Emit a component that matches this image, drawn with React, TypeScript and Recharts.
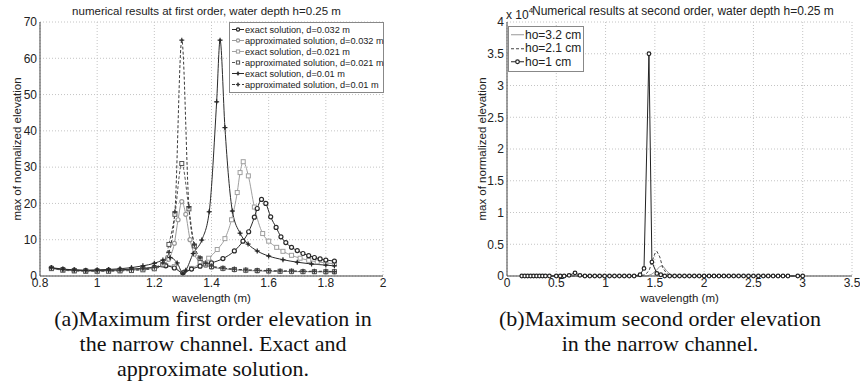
import { LineChart, Line, XAxis, YAxis, CartesianGrid } from "recharts";

const SANS = '"Liberation Sans", Arial, sans-serif';
const SERIF = '"Liberation Serif", "Times New Roman", serif';

// (a) first order, wavelength (m) vs max of normalized elevation
const exactD032X = [0.84, 0.88, 0.92, 0.96, 1.0, 1.04, 1.08, 1.12, 1.16, 1.2, 1.24, 1.27, 1.3, 1.33, 1.36, 1.4, 1.44, 1.48, 1.51, 1.53, 1.55, 1.56, 1.575, 1.59, 1.607, 1.626, 1.643, 1.66, 1.68, 1.7, 1.72, 1.74, 1.76, 1.78, 1.8, 1.83];
const exactD032Y = [2.2, 1.8, 1.6, 1.5, 1.5, 1.6, 1.7, 1.9, 2.1, 2.4, 2.8, 2.2, 0.9, 1.9, 2.7, 3.6, 4.8, 6.9, 9.6, 12.2, 16.2, 18.6, 21.1, 20.0, 16.3, 13.4, 10.8, 9.2, 7.9, 7.0, 6.2, 5.6, 5.1, 4.7, 4.4, 4.1];

const approxD032X = [0.84, 0.88, 0.92, 0.96, 1.0, 1.04, 1.08, 1.12, 1.16, 1.2, 1.23, 1.25, 1.27, 1.283, 1.296, 1.31, 1.325, 1.34, 1.36, 1.38, 1.4, 1.44, 1.48, 1.52, 1.56, 1.6, 1.64, 1.68, 1.72, 1.76, 1.8, 1.83];
const approxD032Y = [2.2, 1.7, 1.5, 1.4, 1.4, 1.4, 1.5, 1.6, 1.8, 2.2, 3.0, 4.6, 9.0, 15.5, 20.5, 17.0, 10.0, 6.0, 3.8, 2.9, 2.4, 2.0, 1.7, 1.5, 1.4, 1.3, 1.3, 1.2, 1.2, 1.2, 1.1, 1.1];

const exactD021X = [0.84, 0.88, 0.92, 0.96, 1.0, 1.04, 1.08, 1.12, 1.16, 1.2, 1.24, 1.27, 1.3, 1.33, 1.36, 1.39, 1.42, 1.447, 1.47, 1.49, 1.5, 1.511, 1.529, 1.55, 1.579, 1.6, 1.628, 1.65, 1.68, 1.71, 1.74, 1.77, 1.8, 1.83];
const exactD021Y = [2.0, 1.7, 1.5, 1.4, 1.4, 1.5, 1.6, 1.8, 2.0, 2.3, 2.9, 2.6, 0.6, 2.1, 3.3, 4.9, 7.3, 10.3, 15.5, 23.0, 28.5, 31.5, 27.6, 19.0, 11.7, 9.6, 7.9, 6.8, 5.7, 4.9, 4.3, 3.9, 3.6, 3.4];

const approxD021X = [0.84, 0.88, 0.92, 0.96, 1.0, 1.04, 1.08, 1.12, 1.16, 1.2, 1.23, 1.251, 1.272, 1.296, 1.321, 1.34, 1.36, 1.38, 1.4, 1.44, 1.48, 1.52, 1.56, 1.6, 1.64, 1.68, 1.72, 1.76, 1.8, 1.83];
const approxD021Y = [2.1, 1.6, 1.4, 1.3, 1.3, 1.3, 1.4, 1.5, 1.7, 2.0, 3.1, 8.7, 17.0, 31.0, 18.5, 8.3, 4.8, 3.3, 2.6, 2.1, 1.8, 1.6, 1.5, 1.4, 1.3, 1.3, 1.2, 1.2, 1.2, 1.2];

const exactD01X = [0.84, 0.88, 0.92, 0.96, 1.0, 1.04, 1.08, 1.12, 1.16, 1.2, 1.23, 1.255, 1.28, 1.3, 1.31, 1.336, 1.366, 1.392, 1.418, 1.43, 1.447, 1.473, 1.5, 1.528, 1.56, 1.6, 1.65, 1.7, 1.75, 1.8, 1.83];
const exactD01Y = [2.3, 1.9, 1.7, 1.6, 1.7, 1.8, 2.0, 2.3, 2.8, 3.5, 4.4, 5.1, 3.6, 0.8, 1.6, 6.2, 9.9, 17.7, 48.0, 65.0, 40.9, 17.9, 11.8, 8.8, 6.9, 5.5, 4.5, 3.8, 3.3, 3.0, 2.8];

const approxD01X = [0.84, 0.88, 0.92, 0.96, 1.0, 1.04, 1.08, 1.12, 1.16, 1.2, 1.23, 1.251, 1.272, 1.296, 1.321, 1.34, 1.36, 1.38, 1.4, 1.44, 1.48, 1.52, 1.56, 1.6, 1.64, 1.68, 1.72, 1.76, 1.8, 1.83];
const approxD01Y = [2.3, 1.8, 1.6, 1.5, 1.5, 1.5, 1.6, 1.8, 2.0, 2.4, 3.6, 6.5, 17.7, 65.0, 19.1, 8.6, 5.0, 3.5, 2.8, 2.2, 1.9, 1.7, 1.6, 1.5, 1.4, 1.4, 1.3, 1.3, 1.3, 1.2];

const leftXTicks = [0.8, 1, 1.2, 1.4, 1.6, 1.8, 2];
const leftYTicks = [0, 10, 20, 30, 40, 50, 60, 70];

// (b) second order, values in units of 10^4
const ho32X = [0.15, 1.42, 1.47, 1.51, 1.55, 1.58, 1.62, 1.66, 1.7, 3.0];
const ho32Y = [0, 0, 0.03, 0.08, 0.15, 0.16, 0.08, 0.02, 0, 0];

const ho21X = [0.15, 1.35, 1.4, 1.44, 1.47, 1.5, 1.52, 1.55, 1.58, 1.62, 1.66, 3.0];
const ho21Y = [0, 0, 0.02, 0.08, 0.22, 0.35, 0.39, 0.3, 0.13, 0.04, 0, 0];

const ho1X = [0.15, 0.18, 0.21, 0.24, 0.27, 0.3, 0.33, 0.36, 0.39, 0.43, 0.5, 0.54, 0.58, 0.63, 0.69, 0.74, 0.79, 0.84, 0.89, 0.94, 0.99, 1.04, 1.09, 1.14, 1.19, 1.24, 1.29, 1.35, 1.39, 1.44, 1.47, 1.52, 1.56, 1.6, 1.65, 1.7, 1.75, 1.8, 1.85, 1.9, 1.95, 2.0, 2.05, 2.1, 2.15, 2.2, 2.25, 2.3, 2.35, 2.4, 2.45, 2.5, 2.55, 2.6, 2.65, 2.7, 2.75, 2.8, 2.85, 2.95, 3.0];
const ho1Y = [0, 0, 0, 0, 0, 0, 0, 0, 0, 0, 0, 0, 0, 0.01, 0.05, 0.01, 0, 0, 0, 0, 0, 0, 0, 0, 0, 0, 0, 0.02, 0.12, 3.5, 0.22, 0.04, 0.02, 0, 0, 0, 0, 0, 0, 0, 0, 0, 0, 0, 0, 0, 0, 0, 0, 0, 0, 0, 0, 0, 0, 0, 0, 0, 0, 0, 0];

const rightXTicks = [0, 0.5, 1, 1.5, 2, 2.5, 3, 3.5];
const rightYTicks = [0, 0.5, 1, 1.5, 2, 2.5, 3, 3.5, 4];

type Shape = "circle" | "square" | "plus" | "none";
interface Series {
  name: string;
  xs: number[];
  ys: number[];
  color: string;
  dash?: string;
  shape: Shape;
}

const toPoints = (xs: number[], ys: number[]) => xs.map((x, i) => ({ x, y: ys[i] }));

const leftSeries: Series[] = [
  { name: "exact solution, d=0.032 m", xs: exactD032X, ys: exactD032Y, color: "#2a2a2a", shape: "circle" },
  { name: "approximated solution, d=0.032 m", xs: approxD032X, ys: approxD032Y, color: "#9a9a9a", shape: "circle" },
  { name: "exact solution, d=0.021 m", xs: exactD021X, ys: exactD021Y, color: "#a0a0a0", shape: "square" },
  { name: "approximated solution, d=0.021 m", xs: approxD021X, ys: approxD021Y, color: "#555", dash: "3 2", shape: "square" },
  { name: "exact solution, d=0.01 m", xs: exactD01X, ys: exactD01Y, color: "#2a2a2a", shape: "plus" },
  { name: "approximated solution, d=0.01 m", xs: approxD01X, ys: approxD01Y, color: "#3a3a3a", dash: "3 2", shape: "plus" },
];

const rightSeries: Series[] = [
  { name: "ho=3.2 cm", xs: ho32X, ys: ho32Y, color: "#999", shape: "none" },
  { name: "ho=2.1 cm", xs: ho21X, ys: ho21Y, color: "#444", dash: "3 2", shape: "none" },
  { name: "ho=1 cm", xs: ho1X, ys: ho1Y, color: "#222", shape: "circle" },
];

// draw order: light lines underneath
const leftDrawOrder = [2, 1, 0, 3, 5, 4];

function Marker({ cx, cy, shape, color, size = 2 }: { cx?: number; cy?: number; shape: Shape; color: string; size?: number }) {
  if (cx == null || cy == null || shape === "none") return null;
  if (shape === "circle")
    return <circle cx={cx} cy={cy} r={size} fill="#fff" stroke={color} strokeWidth={1.2} />;
  if (shape === "square")
    return <rect x={cx - size} y={cy - size} width={size * 2} height={size * 2} fill="#fff" stroke={color} strokeWidth={1} />;
  return (
    <g stroke={color} strokeWidth={1.2}>
      <line x1={cx - size - 0.5} y1={cy} x2={cx + size + 0.5} y2={cy} />
      <line x1={cx} y1={cy - size - 0.5} x2={cx} y2={cy + size + 0.5} />
      <circle cx={cx} cy={cy} r={1.2} fill={color} stroke="none" />
    </g>
  );
}

function LegendBox({
  items,
  left,
  top,
  width,
  fontSize,
  rowH,
  sampleW,
  markerSize,
}: {
  items: Series[];
  left: number;
  top: number;
  width: number;
  fontSize: number;
  rowH: number;
  sampleW: number;
  markerSize: number;
}) {
  return (
    <div
      style={{
        position: "absolute",
        left,
        top,
        width,
        background: "#fff",
        border: "1px solid #888",
        padding: "1px 0 2px 2px",
        boxSizing: "border-box",
        fontFamily: SANS,
        fontSize,
        color: "#222",
      }}
    >
      {items.map((s) => (
        <div key={s.name} style={{ display: "flex", alignItems: "center", height: rowH, whiteSpace: "nowrap" }}>
          <svg width={sampleW} height={rowH} style={{ flex: "none" }}>
            <line x1={0} y1={rowH / 2} x2={sampleW} y2={rowH / 2} stroke={s.color} strokeWidth={1} strokeDasharray={s.dash} />
            <Marker cx={sampleW / 2} cy={rowH / 2} shape={s.shape} color={s.color} size={markerSize} />
          </svg>
          <span style={{ marginLeft: 1 }}>{s.name}</span>
        </div>
      ))}
    </div>
  );
}

const fmt = (v: number) => String(+v.toFixed(2));
const tickStyle = { fill: "#222", fontSize: 12, fontFamily: SANS };
const labelStyle = { fontFamily: SANS, fontSize: 11.5, color: "#222" };

function FirstOrderChart() {
  return (
    <div style={{ position: "relative", width: 430, height: 300 }}>
      <LineChart width={430} height={300} margin={{ top: 22, right: 47, bottom: 0, left: 10 }}>
        <CartesianGrid stroke="#c4c4c4" strokeDasharray="1 2" />
        <XAxis
          dataKey="x"
          type="number"
          domain={[0.8, 2]}
          ticks={leftXTicks}
          tickFormatter={fmt}
          allowDataOverflow
          height={24}
          tickSize={0}
          tickMargin={2}
          tick={tickStyle}
          stroke="#444"
        />
        <XAxis xAxisId="top" orientation="top" type="number" domain={[0, 1]} height={0} tick={false} tickLine={false} stroke="#444" />
        <YAxis
          type="number"
          domain={[0, 70]}
          ticks={leftYTicks}
          width={30}
          tickSize={0}
          tickMargin={3}
          tick={tickStyle}
          stroke="#444"
        />
        <YAxis yAxisId="right" orientation="right" type="number" domain={[0, 1]} width={0} tick={false} tickLine={false} stroke="#444" />
        {leftDrawOrder.map((i) => {
          const s = leftSeries[i];
          return (
            <Line
              key={s.name}
              data={toPoints(s.xs, s.ys)}
              dataKey="y"
              name={s.name}
              type="monotone"
              stroke={s.color}
              strokeWidth={1}
              strokeDasharray={s.dash}
              isAnimationActive={false}
              dot={(p: any) => <Marker key={`${s.name}-${p.index}`} cx={p.cx} cy={p.cy} shape={s.shape} color={s.color} />}
              activeDot={false}
            />
          );
        })}
      </LineChart>
      <div style={{ position: "absolute", left: 40, width: 333, top: 5, textAlign: "center", fontFamily: SANS, fontSize: 11.5, color: "#222", whiteSpace: "nowrap" }}>
        numerical results at first order, water depth h=0.25 m
      </div>
      <div
        style={{
          ...labelStyle,
          position: "absolute",
          left: 17,
          top: 149,
          transform: "translate(-50%, -50%) rotate(-90deg)",
          whiteSpace: "nowrap",
        }}
      >
        max of normalized elevation
      </div>
      <div style={{ ...labelStyle, position: "absolute", left: 40, width: 343, top: 292, textAlign: "center" }}>
        wavelength (m)
      </div>
      <LegendBox items={leftSeries} left={229} top={22} width={155} fontSize={9.2} rowH={11} sampleW={12} markerSize={1.6} />
    </div>
  );
}

function SecondOrderChart() {
  return (
    <div style={{ position: "relative", width: 430, height: 300 }}>
      <LineChart width={430} height={300} margin={{ top: 22, right: 8, bottom: 0, left: 47 }}>
        <CartesianGrid stroke="#c4c4c4" strokeDasharray="1 2" />
        <XAxis
          dataKey="x"
          type="number"
          domain={[0, 3.5]}
          ticks={rightXTicks}
          tickFormatter={fmt}
          allowDataOverflow
          height={24}
          tickSize={0}
          tickMargin={2}
          tick={tickStyle}
          stroke="#444"
        />
        <XAxis xAxisId="top" orientation="top" type="number" domain={[0, 1]} height={0} tick={false} tickLine={false} stroke="#444" />
        <YAxis
          type="number"
          domain={[0, 4]}
          ticks={rightYTicks}
          tickFormatter={fmt}
          width={30}
          tickSize={0}
          tickMargin={3}
          tick={tickStyle}
          stroke="#444"
        />
        <YAxis yAxisId="right" orientation="right" type="number" domain={[0, 1]} width={0} tick={false} tickLine={false} stroke="#444" />
        {rightSeries.map((s) => (
          <Line
            key={s.name}
            data={toPoints(s.xs, s.ys)}
            dataKey="y"
            name={s.name}
            type="linear"
            stroke={s.color}
            strokeWidth={1}
            strokeDasharray={s.dash}
            isAnimationActive={false}
            dot={
              s.shape === "none"
                ? false
                : (p: any) => <Marker key={`${s.name}-${p.index}`} cx={p.cx} cy={p.cy} shape={s.shape} color={s.color} size={1.8} />
            }
            activeDot={false}
          />
        ))}
      </LineChart>
      <div style={{ position: "absolute", left: 102, top: 4, fontFamily: SANS, fontSize: 12, color: "#222", whiteSpace: "nowrap" }}>
        Numerical results at second order, water depth h=0.25 m
      </div>
      <div style={{ position: "absolute", left: 76, top: 8, fontFamily: SANS, fontSize: 12, color: "#222", whiteSpace: "nowrap" }}>
        x 10<span style={{ fontSize: 8, position: "relative", top: -6 }}>4</span>
      </div>
      <div
        style={{
          ...labelStyle,
          position: "absolute",
          left: 52,
          top: 149,
          transform: "translate(-50%, -50%) rotate(-90deg)",
          whiteSpace: "nowrap",
        }}
      >
        max of normalized elevation
      </div>
      <div style={{ ...labelStyle, position: "absolute", left: 77, width: 345, top: 292, textAlign: "center" }}>
        wavelength (m)
      </div>
      <LegendBox items={rightSeries} left={78} top={26} width={76} fontSize={12} rowH={13.5} sampleW={13} markerSize={1.8} />
    </div>
  );
}

const captionStyle = {
  position: "absolute" as const,
  width: 420,
  top: 306,
  textAlign: "center" as const,
  fontFamily: SERIF,
  fontSize: 22,
  lineHeight: "25px",
  color: "#111",
};

export default function App() {
  return (
    <div style={{ position: "absolute", left: 0, top: 0, width: 860, height: 387, background: "#fff", overflow: "hidden" }}>
      <div style={{ position: "absolute", left: 0, top: 0 }}>
        <FirstOrderChart />
      </div>
      <div style={{ position: "absolute", left: 430, top: 0 }}>
        <SecondOrderChart />
      </div>
      <div style={{ ...captionStyle, left: 3 }}>
        (a)Maximum first order elevation in
        <br />
        the narrow channel. Exact and
        <br />
        approximate solution.
      </div>
      <div style={{ ...captionStyle, left: 450 }}>
        (b)Maximum second order elevation
        <br />
        in the narrow channel.
      </div>
    </div>
  );
}
